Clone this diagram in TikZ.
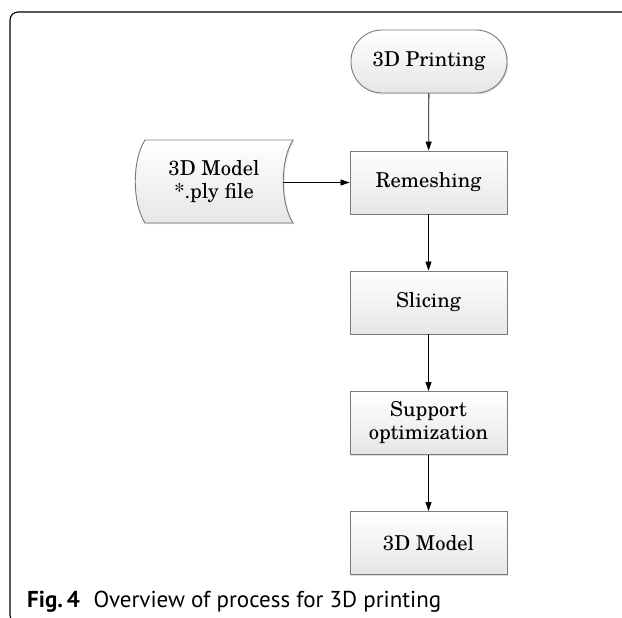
\documentclass[tikz,border=0pt]{standalone}
\usepackage{fontspec}
\newfontfamily\capfont{PT Sans}
\newfontfamily\scholafont[Extension=.otf]{texgyreschola-regular}
\usetikzlibrary{arrows.meta,shadows}

\definecolor{boxline}{HTML}{7A7A7A}
\definecolor{boxbottom}{HTML}{E6E6E6}

\tikzset{
  boxtext/.style={font=\scholafont\fontsize{20.5}{23}\selectfont, align=center},
  procbox/.style={boxtext, rectangle, draw=boxline, line width=0.9pt,
    top color=white, bottom color=boxbottom,
    minimum width=157pt, minimum height=63pt, inner sep=0pt,
    drop shadow={shadow xshift=1.2pt, shadow yshift=-1.2pt, opacity=0.25}},
  termbox/.style={procbox, rounded corners=31pt, minimum width=156pt},
  flow/.style={line width=0.8pt, -{Triangle[length=9pt,width=6pt]}},
}

\begin{document}
\begin{tikzpicture}[x=1pt,y=-1pt]
  \useasboundingbox (0,0) rectangle (622,618);
  \clip (0,0) rectangle (622,618);

  % figure frame: top and left rules with rounded corners
  \draw[line width=1.1pt, rounded corners=8pt] (640,12) -- (10,12) -- (10,623) -- (40,623);

  % flow chart nodes
  \node[termbox] (print) at (429,61.5) {3D Printing};
  \node[procbox] (remesh) at (428.5,182.5) {Remeshing};
  \node[procbox] (slice) at (428.5,302.5) {Slicing};
  \node[procbox] (support) at (428.5,423) {Support\\optimization};
  \node[procbox] (model) at (428.5,543) {3D Model};

  % stored-data shape for the input file
  \draw[boxline, line width=0.9pt, top color=white, bottom color=boxbottom,
        drop shadow={shadow xshift=1.2pt, shadow yshift=-1.2pt, opacity=0.25}]
    (145,140) -- (293,140) .. controls (280,160) and (280,203) .. (293,223)
    -- (145,223) .. controls (132,203) and (132,160) .. (145,140) -- cycle;
  \node[boxtext] (file) at (214,182) {3D Model\\*.ply file};
  \coordinate (fileout) at (283.3,182.5);

  % connectors
  \draw[flow] (print) -- (remesh);
  \draw[flow] (fileout) -- (remesh);
  \draw[flow] (remesh) -- (slice);
  \draw[flow] (slice) -- (support);
  \draw[flow] (support) -- (model);

  % caption
  \node[anchor=base west, inner sep=0pt] (caption) at (27,607)
    {\capfont\fontsize{23}{26}\selectfont\bfseries Fig.\,4\hspace{0.6em}\mdseries Overview of process for 3D printing};
\end{tikzpicture}
\end{document}
